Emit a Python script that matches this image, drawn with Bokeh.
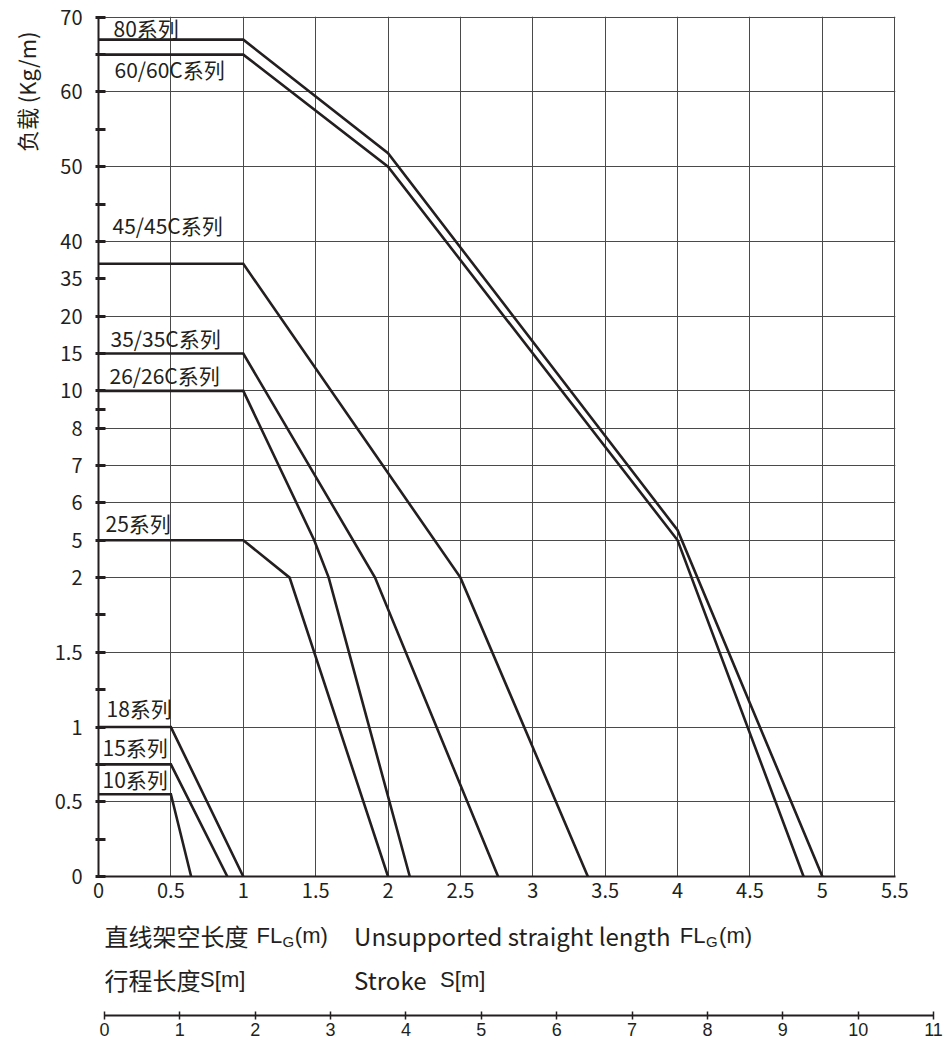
import numpy as np
from bokeh.plotting import figure
from bokeh.models import (ColumnDataSource, FixedTicker, CustomJSTickFormatter,
                          Range1d, Title)
from bokeh.embed import file_html
from bokeh.resources import INLINE
from bokeh.core.properties import value, field

# ---------------- data ----------------
# y axis: non-uniform scale (value -> slot position)
Y_TICK_VALUES = [0, 0.5, 1, 1.5, 2, 5, 6, 7, 8, 10, 15, 20, 35, 40, 50, 60, 70]
Y_TICK_POS = [0, 1, 2, 3, 4, 4.5, 5, 5.5, 6, 6.5, 7, 7.5, 8, 8.5, 9.5, 10.5, 11.5]
Y_TICK_LABELS = [f"{v:g}" for v in Y_TICK_VALUES]
Y_MINOR_POS = [0.5, 1.5, 2.5, 3.5, 6.25, 9, 10, 11]
Y_NO_GRID = [15, 35]

X_TICKS = [0, 0.5, 1, 1.5, 2, 2.5, 3, 3.5, 4, 4.5, 5, 5.5]
STROKE_TICKS = [0, 1, 2, 3, 4, 5, 6, 7, 8, 9, 10, 11]

SERIES_NAMES = ["80系列", "60/60C系列", "45/45C系列", "35/35C系列", "26/26C系列",
                "25系列", "18系列", "15系列", "10系列"]
S80_X = [0, 1, 2.0, 4.0, 5.0]
S80_Y = [67, 67, 51.8, 5.27, 0]
S60_X = [0, 1, 2.0, 4.0, 4.87]
S60_Y = [65, 65, 50, 5, 0]
S45_X = [0, 1, 2.5, 3.38]
S45_Y = [37, 37, 2, 0]
S35_X = [0, 1, 1.91, 2.76]
S35_Y = [15, 15, 2, 0]
S26_X = [0, 1, 1.49, 1.59, 2.15]
S26_Y = [10, 10, 5, 2, 0]
S25_X = [0, 1, 1.32, 2.0]
S25_Y = [5, 5, 2, 0]
S18_X = [0, 0.5, 1.0]
S18_Y = [1, 1, 0]
S15_X = [0, 0.5, 0.89]
S15_Y = [0.75, 0.75, 0]
S10_X = [0, 0.5, 0.64]
S10_Y = [0.55, 0.55, 0]

SERIES_X = [S80_X, S60_X, S45_X, S35_X, S26_X, S25_X, S18_X, S15_X, S10_X]
SERIES_Y = [S80_Y, S60_Y, S45_Y, S35_Y, S26_Y, S25_Y, S18_Y, S15_Y, S10_Y]

Y_TITLE = "负载 (Kg/m)"
CAPTION_TEXT = ["直线架空长度", "FL", "G", "(m)", "Unsupported straight length", "FL", "G", "(m)",
                "行程长度", "S[m]", "Stroke", "S[m]"]

# ---------------- styles ----------------
INK = "#231f20"
GRID = "#4a4a4a"
CJK = "Noto Sans CJK SC"
ARIAL = "Liberation Sans"
TEXT_SHIFT = 9  # compensation: rendered alphabetic baseline sits lower than anchor
# label offsets in screen px (dx from axis, dy from series' flat line to baseline)
LABEL_DX = [15, 16, 14, 12, 11, 7, 8, 4, 4]
LABEL_DY = [d - TEXT_SHIFT for d in [-3, 23, -30, -6, -7, -8, -10, -8.6, -6]]


def to_pos(v):
    return np.interp(v, Y_TICK_VALUES, Y_TICK_POS)


p = figure(width=937, height=910,
           x_range=Range1d(0, X_TICKS[-1] + 0.005),
           y_range=Range1d(0, Y_TICK_POS[-1] + 0.01),
           output_backend="svg", toolbar_location=None,
           min_border_left=98, min_border_right=42,
           min_border_top=16, min_border_bottom=34)
p.outline_line_color = None
p.background_fill_color = "white"
p.border_fill_color = "white"

# grids
p.xgrid.ticker = FixedTicker(ticks=X_TICKS)
grid_pos = [pp for pp, v in zip(Y_TICK_POS, Y_TICK_VALUES) if v not in Y_NO_GRID]
p.ygrid.ticker = FixedTicker(ticks=grid_pos)
for g in (p.xgrid, p.ygrid):
    g.grid_line_color = GRID
    g.grid_line_width = 1

# x axis
xa = p.xaxis[0]
xa.ticker = FixedTicker(ticks=X_TICKS)
xa.formatter = CustomJSTickFormatter(code="return String(tick);")
xa.axis_line_width = 2
xa.axis_line_color = INK
xa.major_tick_in = 0
xa.major_tick_out = 0
xa.minor_tick_in = 0
xa.minor_tick_out = 0
xa.major_label_standoff = 6
xa.major_label_text_font = CJK
xa.major_label_text_font_size = "20px"
xa.major_label_text_color = INK

# y axis
ya = p.yaxis[0]
ya.ticker = FixedTicker(ticks=Y_TICK_POS, minor_ticks=Y_MINOR_POS)
ya.formatter = CustomJSTickFormatter(
    args=dict(pos=Y_TICK_POS, lab=Y_TICK_LABELS),
    code="""
    for (let i = 0; i < pos.length; i++) {
        if (Math.abs(pos[i] - tick) < 1e-6) return lab[i];
    }
    return "";
    """)
ya.axis_line_width = 2
ya.axis_line_color = INK
ya.major_tick_in = 7
ya.major_tick_out = 3
ya.major_tick_line_width = 3
ya.major_tick_line_color = INK
ya.minor_tick_in = 7
ya.minor_tick_out = 3
ya.minor_tick_line_width = 3
ya.minor_tick_line_color = INK
ya.major_label_standoff = 13
ya.major_label_text_font = CJK
ya.major_label_text_font_size = "20px"
ya.major_label_text_color = INK

# y title on the left, near the top
p.add_layout(Title(text=Y_TITLE, align="right", vertical_align="top", offset=15, standoff=15,
                   text_font=CJK, text_font_size="22px", text_font_style="normal",
                   text_color=INK), "left")

# series lines
for xs, ys in zip(SERIES_X, SERIES_Y):
    p.line(xs, to_pos(ys), line_color=INK, line_width=2.6, line_join="miter")

# series labels
flat_vals = [ys[0] for ys in SERIES_Y]
lab_src = ColumnDataSource(dict(
    x=[0] * len(SERIES_NAMES),
    y=list(to_pos(flat_vals)),
    text=SERIES_NAMES,
    dx=LABEL_DX,
    dy=LABEL_DY,
))
p.text(x="x", y="y", text="text", x_offset="dx", y_offset="dy", source=lab_src,
       text_font=value(CJK), text_font_size="21px", text_color=INK,
       text_align="left", text_baseline="alphabetic")

# ---------------- lower panel: captions + stroke axis ----------------
Q_FRAME_H = 105
q = figure(width=945, height=132,
           x_range=Range1d(STROKE_TICKS[0], STROKE_TICKS[-1]),
           y_range=Range1d(0, Q_FRAME_H),
           output_backend="svg", toolbar_location=None,
           min_border_left=104, min_border_right=12,
           min_border_top=0, min_border_bottom=27)
q.outline_line_color = None
q.grid.visible = False
q.yaxis.visible = False
q.background_fill_color = "white"
q.border_fill_color = "white"

qa = q.xaxis[0]
qa.ticker = FixedTicker(ticks=STROKE_TICKS)
qa.formatter = CustomJSTickFormatter(code="return String(tick);")
qa.axis_line_width = 2
qa.axis_line_color = INK
qa.major_tick_in = 4
qa.major_tick_out = 4
qa.major_tick_line_width = 1.5
qa.major_tick_line_color = INK
qa.minor_tick_in = 0
qa.minor_tick_out = 0
qa.major_label_standoff = 3
qa.major_label_text_font = ARIAL
qa.major_label_text_font_size = "18px"
qa.major_label_text_color = INK

CAPTION_DX = [0, 152, 178, 190.3, 249.6, 575.3, 601.6, 614.6,
              0, 95.6, 249.6, 335.6]
CAPTION_RISE = [71, 71, 65, 71, 71, 71, 65, 71,
                27, 27, 27, 27]   # baseline height above stroke axis, px
CAPTION_FONT = [CJK, ARIAL, ARIAL, ARIAL, CJK, ARIAL, ARIAL, ARIAL,
                CJK, ARIAL, CJK, ARIAL]
CAPTION_SIZE = ["24px", "22px", "15px", "22px", "24px", "22px", "15px", "22px",
                "24px", "22px", "24px", "22px"]
cap_src = ColumnDataSource(dict(x=[0] * len(CAPTION_TEXT),
                                y=[r + TEXT_SHIFT for r in CAPTION_RISE],
                                text=CAPTION_TEXT,
                                dx=CAPTION_DX, font=CAPTION_FONT, size=CAPTION_SIZE))
q.text(x="x", y="y", text="text", x_offset="dx", source=cap_src,
       text_font=field("font"), text_font_size=field("size"), text_color=INK,
       text_align="left", text_baseline="alphabetic")

# two independent roots (no frame alignment between them)
open("out.html", "w").write(file_html([p, q], INLINE))
